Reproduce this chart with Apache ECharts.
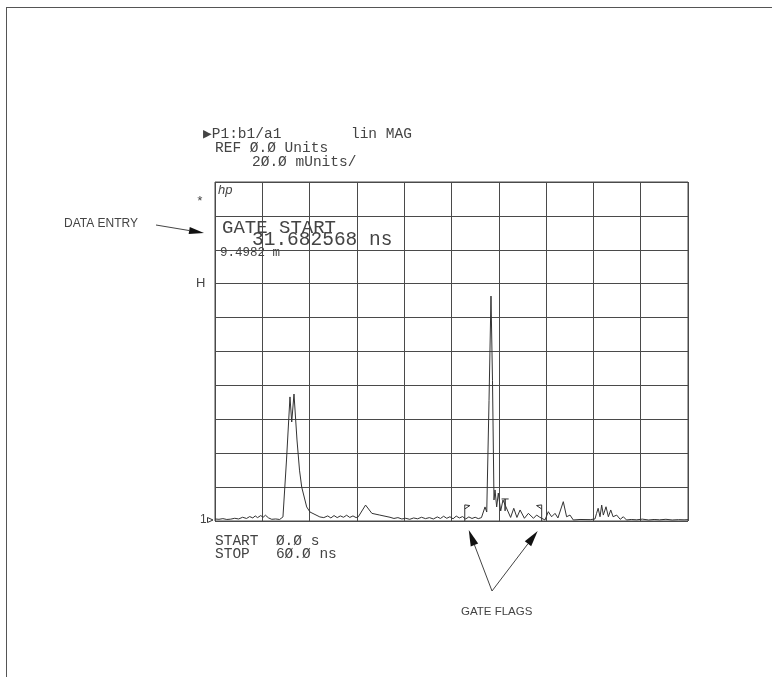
<!DOCTYPE html>
<html>
<head>
<meta charset="utf-8">
<script src="https://cdn.jsdelivr.net/npm/echarts@6/dist/echarts.min.js"></script>
<style>
  html, body { margin: 0; padding: 0; background: #fff; }
  #chart { width: 772px; height: 677px; }
</style>
</head>
<body>
<div id="chart"></div>
<script>
// Time-domain response, linear magnitude (mUnits) versus time (ns)
const timeNs = [
  0, 0.5, 1.0, 1.5, 2.0, 2.5, 3.0, 3.5, 4.0, 4.4, 4.8, 5.1, 5.4, 5.8, 6.1, 6.4, 6.8, 7.2, 7.7, 8.2,
  8.62, 9.07, 9.51, 9.73, 10.02, 10.4, 10.72, 11.0, 11.63, 12.05, 13.3,
  13.8, 14.3, 14.7, 15.1, 15.5, 15.9, 16.3, 16.7, 17.1, 17.5, 17.9, 18.18,
  19.1, 19.9, 20.9, 22.2,
  22.7, 23.2, 23.7, 24.2, 24.7, 25.2, 25.7, 26.2, 26.7, 27.2, 27.7, 28.2, 28.6, 29.0, 29.4, 29.8,
  30.2, 30.6, 31.0, 31.4, 31.8, 32.2, 32.6, 33.0, 33.4, 33.8, 34.0,
  34.25, 34.47, 34.76, 35.01, 35.2, 35.39, 35.52, 35.73, 35.94, 36.24, 36.53,
  36.9, 37.5, 37.9, 38.3, 38.7, 39.25, 39.75, 40.4, 40.8, 41.2, 41.86,
  42.28, 42.7, 43.13, 43.5, 44.18, 44.6, 45.03, 45.45, 46.3, 47.6, 48.2,
  48.4, 48.6, 48.84, 49.05, 49.26, 49.6, 49.9, 50.2, 50.5, 50.95, 51.4, 51.8, 52.2,
  52.8, 53.5, 54.2, 55.0, 55.7, 56.4, 57.2, 58.0, 58.8, 59.5, 60.0
];
const magMU = [
  1.2, 1.0, 1.4, 0.9, 1.1, 1.6, 1.2, 2.2, 1.5, 2.6, 1.8, 3.0, 2.0, 3.2, 2.2, 3.4, 1.8, 1.0, 1.2, 0.9,
  2.4, 36, 73.2, 58.4, 74.9, 47.8, 30, 20, 8.3, 5.3, 2.4,
  2.0, 3.0, 1.8, 3.2, 2.0, 3.0, 2.2, 3.4, 2.1, 3.0, 2.0, 2.5,
  9.4, 4.5, 3.5, 2.2,
  1.5, 2.0, 1.2, 1.6, 1.0, 1.8, 1.3, 2.2, 1.4, 2.0, 1.2, 2.4, 1.5, 2.8, 1.6, 2.5,
  1.3, 2.9, 1.8, 2.6, 1.2, 2.4, 1.5, 2.2, 1.4, 2.0, 2.4,
  8.3, 5.3, 71, 132.7, 83, 12.4, 18.3, 8.3, 16.5, 5.9, 12.4,
  8.4, 2.1, 7.5, 2.1, 6.5, 1.6, 4.5, 1.6, 3.5, 2.2, 0.6,
  5.5, 2.5, 4.5, 1.8, 11.4, 2.5, 3.5, 0.6, 0.9, 0.8, 1.2,
  4.5, 7.5, 2.5, 9.4, 3.5, 8.4, 2.5, 6.5, 2.5, 3.5, 1.0, 2.5, 0.6,
  0.9, 0.7, 1.1, 0.6, 0.9, 0.7, 1.0, 0.6, 0.8, 0.7, 0.8
];

// Gate settings (ns)
const gateStartNs = 31.682568;
const gateStopNs = 41.44;
const gateCenterNs = 36.8;

// Axis scales: 6 ns per division horizontally, 20 mUnits per division vertically
const xMinNs = 0, xMaxNs = 60, xStepNs = 6;
const yMinMU = 0, yMaxMU = 200, yStepMU = 20;

// Annotation text
const headerLines = ['\u25B6P1:b1/a1        lin MAG', 'REF \u00D8.\u00D8 Units', '2\u00D8.\u00D8 mUnits/'];
const entryTitle = 'GATE START';
const entryValue = '31.682568 ns';
const entryDistance = '9.4982 m';
const sweepLines = ['START  \u00D8.\u00D8 s', 'STOP   6\u00D8.\u00D8 ns'];

const chart = echarts.init(document.getElementById('chart'), null, { renderer: 'canvas' });

const ink = '#333';
const textInk = '#444';
const gridInk = '#4a4a4a';
const mono = '"Liberation Mono", "DejaVu Sans Mono", monospace';
const sans = '"Liberation Sans", Arial, sans-serif';

const GRID = { left: 215, top: 182, width: 473, height: 339 };

function lineSeries(data, width) {
  return {
    type: 'line', data: data, symbol: 'none', silent: true, animation: false,
    lineStyle: { color: ink, width: width || 1 }, z: 5
  };
}

// Gate flags: pennants on the baseline at the gate start and stop, with a T at the gate centre
const flagH = 9.5, flagTab = 0.65;
const leftFlag = [[gateStartNs, 0], [gateStartNs, flagH], [gateStartNs + flagTab, flagH - 0.4], [gateStartNs, flagH - 2.4]];
const rightFlag = [[gateStopNs, 0], [gateStopNs, flagH], [gateStopNs - flagTab, flagH - 0.4], [gateStopNs, flagH - 2.4]];
const tHalf = 0.45;
const centerT = [[gateCenterNs - tHalf, 13], [gateCenterNs, 13], [gateCenterNs, 6], [gateCenterNs, 13], [gateCenterNs + tHalf, 13]];

function txt(x, y, s, size, font, fontStyle) {
  return {
    type: 'text', x: x, y: y, silent: true,
    style: { text: s, fill: textInk, font: (fontStyle ? fontStyle + ' ' : '') + size + 'px ' + font, textVerticalAlign: 'middle' }
  };
}

function arrow(x1, y1, x2, y2, headLen, headW) {
  const dx = x2 - x1, dy = y2 - y1, len = Math.hypot(dx, dy);
  const ux = dx / len, uy = dy / len;
  const bx = x2 - ux * headLen, by = y2 - uy * headLen;
  const px = -uy * headW / 2, py = ux * headW / 2;
  return [
    { type: 'line', silent: true, shape: { x1: x1, y1: y1, x2: bx, y2: by }, style: { stroke: '#444', lineWidth: 1 } },
    { type: 'polygon', silent: true, shape: { points: [[x2, y2], [bx + px, by + py], [bx - px, by - py]] }, style: { fill: '#111' } }
  ];
}

const option = {
  backgroundColor: '#fff',
  animation: false,
  grid: Object.assign({ show: true, borderColor: gridInk, borderWidth: 1, containLabel: false }, GRID),
  xAxis: {
    type: 'value', min: xMinNs, max: xMaxNs, interval: xStepNs,
    axisLine: { show: false }, axisTick: { show: false }, axisLabel: { show: false },
    splitLine: { show: true, lineStyle: { color: gridInk, width: 1 } }
  },
  yAxis: {
    type: 'value', min: yMinMU, max: yMaxMU, interval: yStepMU,
    axisLine: { show: false }, axisTick: { show: false }, axisLabel: { show: false },
    splitLine: { show: true, lineStyle: { color: gridInk, width: 1 } }
  },
  series: [
    lineSeries(timeNs.map((t, i) => [t, magMU[i]])),
    lineSeries(leftFlag),
    lineSeries(rightFlag),
    lineSeries(centerT)
  ]
};
chart.setOption(option);

// Pixel positions of the gate flags, for the pointer arrows below the plot
const pStart = chart.convertToPixel({ gridIndex: 0 }, [gateStartNs, flagH * 0.3]);
const pStop = chart.convertToPixel({ gridIndex: 0 }, [gateStopNs, flagH * 0.3]);
const pBase = chart.convertToPixel({ gridIndex: 0 }, [xMinNs, yMinMU]);

const graphics = [
  // page frame
  { type: 'line', silent: true, shape: { x1: 6, y1: 7.5, x2: 772, y2: 7.5 }, style: { stroke: '#555', lineWidth: 1 } },
  { type: 'line', silent: true, shape: { x1: 6.5, y1: 7, x2: 6.5, y2: 677 }, style: { stroke: '#555', lineWidth: 1 } },

  // header block
  txt(203, 134, headerLines[0], 14.5, mono),
  txt(215, 148, headerLines[1], 14.5, mono),
  txt(252, 162, headerLines[2], 14.5, mono),

  // left margin markers
  txt(196, 202, '*', 13, mono),
  txt(196, 283, 'H', 13, sans),
  txt(200, pBase[1] - 1, '1', 12, sans),
  { type: 'polygon', silent: true, shape: { points: [[207.5, pBase[1] - 3.5], [213, pBase[1] - 1], [207.5, pBase[1] + 1.5]] }, style: { fill: 'none', stroke: ink, lineWidth: 1 } },

  // hp logo
  txt(218, 190, 'hp', 13, sans, 'italic'),

  // data entry area
  txt(222, 228, entryTitle, 19, mono),
  txt(252, 240, entryValue, 19.5, mono),
  txt(220, 253, entryDistance, 12.5, mono),

  // annotations
  txt(64, 224, 'DATA ENTRY', 12, sans),
  ...arrow(156, 225, 204, 233, 15, 7),
  txt(461, 612, 'GATE FLAGS', 11.5, sans),
  ...arrow(492, 591, pStart[0] + 4, 530, 16, 8),
  ...arrow(492, 591, pStop[0] - 4, 531, 16, 8),

  // sweep limits
  txt(215, 541, sweepLines[0], 14.5, mono),
  txt(215, 554, sweepLines[1], 14.5, mono)
];

chart.setOption({ graphic: graphics });
</script>
</body>
</html>
